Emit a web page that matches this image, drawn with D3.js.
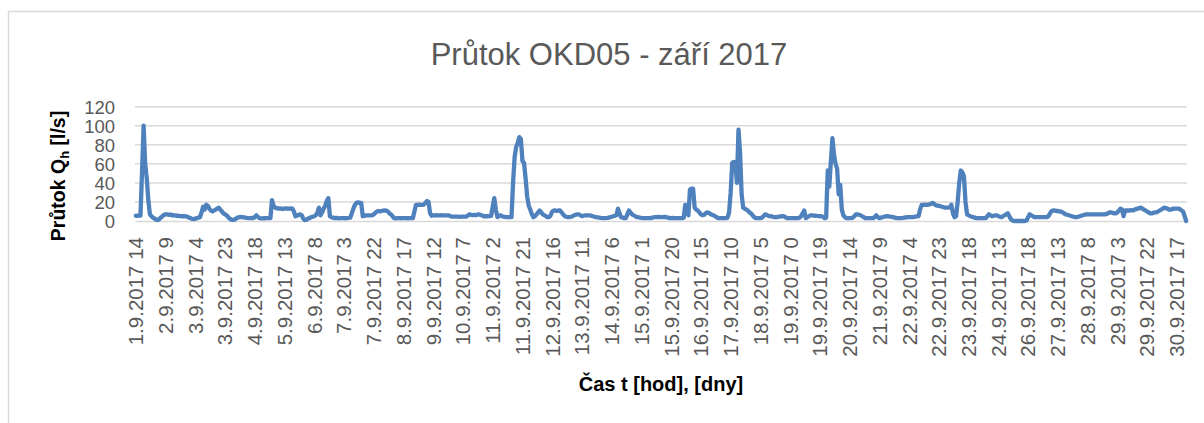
<!DOCTYPE html>
<html>
<head>
<meta charset="utf-8">
<script src="https://cdn.jsdelivr.net/npm/d3@7"></script>
<style>
  body { margin: 0; background: #fff; }
  svg { display: block; }
</style>
</head>
<body>
<svg id="chart" width="1204" height="423"></svg>
<script>
// Hourly flow at OKD05 [l/s], from 1.9.2017 14:00 onward (missing hours logged as 0)
const flow = [
  5.5, 5.5, 5.6, 5.6, 52, 100, 60, 45, 22, 7,
  5, 3.5, 2.5, 1.5, 1, 2, 3.5, 5, 6.5, 7,
  7, 6.5, 6.8, 6, 6.2, 5.8, 5.5, 5.6, 5.2, 5,
  5.1, 5, 4.8, 4.5, 3.5, 3, 2.2, 2, 2.5, 3,
  3.5, 4, 9, 15, 12, 17, 16, 13, 11, 10,
  11, 12, 13, 14, 12, 10, 8, 7, 6, 4,
  2.5, 1.5, 1, 1.5, 2.5, 3.5, 4, 4.2, 4, 3.8,
  3.5, 3.2, 3, 3, 3.2, 3, 4, 6, 4.5, 3,
  2.8, 2.8, 2.9, 3, 3, 3.1, 3, 22, 16, 14,
  13.5, 13, 13.2, 13, 12.6, 13, 13.4, 12.8, 13, 13.2,
  13, 10, 5, 5.5, 6.5, 7, 6, 2.5, 1, 1.5,
  2.5, 3, 4, 4.5, 5, 6, 9, 14, 6, 9,
  13, 16, 21, 24, 5, 4, 3.5, 3, 3.2, 3,
  2.8, 3, 3.1, 3, 2.9, 3, 3.2, 3.5, 8, 13,
  17, 19, 19.5, 19, 19, 5, 5.5, 5.8, 6, 6,
  5.9, 6, 7, 8.5, 10, 10.5, 10, 10.5, 11, 11.2,
  11, 10, 8, 7, 5, 3, 2.8, 3, 3, 2.9,
  3, 3, 3.1, 3, 2.9, 3, 3, 3, 10, 17,
  17, 17.2, 17, 17, 17.3, 19, 21, 20, 8, 5.5,
  6, 6, 6.2, 6, 6, 6.1, 6, 5.9, 6, 6,
  6, 5, 4.5, 4.5, 4.6, 4.5, 4.5, 4.4, 4.5, 4.5,
  4.6, 4.5, 5.5, 7, 6.5, 6, 6.5, 6, 6.5, 7,
  6.5, 6, 5, 5, 5, 5, 5.2, 5.5, 15, 24,
  12, 4, 5, 6, 5, 4.5, 4.2, 4, 4, 4.2,
  4, 40, 67, 78, 82, 88, 86, 63, 61, 45,
  26, 16, 12, 7, 4, 5, 7, 9, 11, 9,
  7, 6, 5, 4, 4, 6, 10, 11, 11, 10.5,
  11, 11, 9, 7, 5, 4.5, 4, 4, 4.5, 5,
  6, 6.5, 7, 7, 6, 5, 5.5, 6, 6, 6,
  6, 5.5, 5, 4.5, 4, 3.8, 3.5, 3.2, 3, 3,
  3, 3.2, 3.5, 4, 4.5, 5, 5.5, 6, 13, 8,
  4, 3.5, 3, 3, 7, 11, 9, 7, 6, 5,
  4, 4, 3.5, 3.2, 3, 3, 3, 3, 3, 3,
  3.5, 4, 4, 4, 4.2, 4, 4, 4, 4.2, 4,
  3.5, 3, 3, 3.2, 3, 3, 3, 3, 3, 3,
  3.5, 17, 10, 6, 33, 34, 34, 14, 12, 11,
  9, 7, 6, 6.5, 8, 9, 8.5, 7.5, 6.5, 6,
  5, 4, 3, 3, 3, 3, 3, 3, 3.5, 9,
  30, 61, 62, 61, 40, 96, 72, 28, 14, 13,
  12, 11, 9, 8, 6, 4, 3, 3, 3, 3,
  3.5, 5, 7, 6.5, 5.5, 5, 5, 4.5, 4, 4,
  4.2, 4.5, 4.8, 5, 5, 4, 3, 3, 3, 3,
  3, 3, 3, 3, 3.5, 5, 8, 11, 3, 4,
  5, 6, 5.8, 5.6, 5.5, 5.4, 5.2, 5, 5, 4.5,
  3, 3.5, 53, 36, 62, 87, 70, 60, 55, 28,
  38, 12, 6, 4, 3, 3, 3, 3, 3.5, 5,
  7, 7, 6.5, 6, 5, 4, 3, 3, 3, 3,
  3, 3, 4, 6, 4, 3, 3.5, 4, 4.5, 5,
  5, 4.8, 4.5, 4.2, 4, 3.5, 3, 3, 3, 3,
  3.2, 3.5, 3.8, 4, 4, 4, 4, 4.2, 4.5, 4.8,
  5, 12, 17, 17, 17.2, 17, 17, 17.5, 18, 19,
  18, 16.5, 16, 16, 15.5, 15, 14.5, 14, 14, 14,
  14.5, 17, 8, 4, 5, 20, 40, 53, 51, 47,
  20, 7, 6, 5, 4.5, 4, 3.5, 3, 3, 3,
  3, 3, 3, 3, 5, 7, 6, 5, 5.5, 6,
  6, 5, 4.5, 4, 5, 6, 7, 8, 5, 2,
  0.5, 0, 0, 0, 0, 0, 0, 0, 0, 0.5,
  4, 7, 6, 5, 4, 4, 4, 4, 4, 4,
  4, 4, 4.2, 5, 8, 10.5, 11, 11, 10.5, 10.5,
  10, 10, 9, 8, 7, 6.5, 6, 5.5, 5, 4.5,
  4, 4, 4.5, 5, 5.5, 6, 6.5, 7, 7, 7,
  7, 7, 7, 7, 7, 7, 7, 7, 7, 7,
  7.5, 8, 9, 9, 8.5, 8, 8, 9, 11, 13,
  12, 5, 11, 11, 11, 11, 11.5, 11, 12, 12.5,
  13, 13.5, 14, 13, 12, 11, 10, 9, 8, 8,
  8.5, 9, 9, 10, 11, 12, 13, 14, 13.5, 13,
  12, 12, 12.5, 13, 13, 13, 13, 12.5, 11, 10,
  5, 0
];

// Category labels shown on every 19th hourly record
const tickLabels = [
  "1.9.2017 14", "2.9.2017 9", "3.9.2017 4", "3.9.2017 23", "4.9.2017 18",
  "5.9.2017 13", "6.9.2017 8", "7.9.2017 3", "7.9.2017 22", "8.9.2017 17",
  "9.9.2017 12", "10.9.2017 7", "11.9.2017 2", "11.9.2017 21", "12.9.2017 16",
  "13.9.2017 11", "14.9.2017 6", "15.9.2017 1", "15.9.2017 20", "16.9.2017 15",
  "17.9.2017 10", "18.9.2017 5", "19.9.2017 0", "19.9.2017 19", "20.9.2017 14",
  "21.9.2017 9", "22.9.2017 4", "22.9.2017 23", "23.9.2017 18", "24.9.2017 13",
  "26.9.2017 18", "27.9.2017 13", "28.9.2017 8", "29.9.2017 3", "29.9.2017 22",
  "30.9.2017 17"
];
const labelStep = 19;
const yTicks = [0, 20, 40, 60, 80, 100, 120];

const chartTitle = "Průtok OKD05 - září 2017";
const xTitle = "Čas t [hod], [dny]";

const svg = d3.select("#chart");
const plot = { left: 135, right: 1187, top: 106.7, bottom: 221 };
const font = "'Liberation Sans', Arial, sans-serif";
const grey = "#595959";
const gridColor = "#d9d9d9";

// Outer chart frame
svg.append("rect")
  .attr("x", 8.5).attr("y", 11.5)
  .attr("width", 1300).attr("height", 500)
  .attr("fill", "none").attr("stroke", gridColor).attr("stroke-width", 1.5);

const x = d3.scaleBand()
  .domain(d3.range(flow.length))
  .range([plot.left, plot.right]);
const y = d3.scaleLinear().domain([0, 120]).range([plot.bottom, plot.top]);
const cx = i => x(i) + x.bandwidth() / 2;

// Horizontal gridlines
svg.append("g")
  .selectAll("line")
  .data(yTicks.filter(v => v > 0))
  .join("line")
  .attr("x1", plot.left).attr("x2", plot.right)
  .attr("y1", d => y(d)).attr("y2", d => y(d))
  .attr("stroke", gridColor).attr("stroke-width", 1.5);

// Y axis labels
const yAxis = svg.append("g")
  .attr("transform", `translate(${plot.left},0)`)
  .call(d3.axisLeft(y).tickValues(yTicks).tickSize(0).tickPadding(20));
yAxis.select(".domain").remove();
yAxis.selectAll("text")
  .attr("font-family", font).attr("font-size", 18.5).attr("fill", grey)
  .attr("dy", "0.36em");

// X axis with rotated category labels
const tickIdx = d3.range(0, flow.length, labelStep).slice(0, tickLabels.length);
const xAxis = svg.append("g")
  .attr("transform", `translate(0,${plot.bottom})`)
  .call(d3.axisBottom(x)
    .tickValues(tickIdx)
    .tickFormat(i => tickLabels[i / labelStep])
    .tickSize(0)
    .tickSizeOuter(0));
xAxis.select(".domain").attr("stroke", gridColor).attr("stroke-width", 1.5);
xAxis.selectAll(".tick").attr("transform", d => `translate(${cx(d)},0)`);
xAxis.selectAll("text")
  .attr("font-family", font).attr("font-size", 20.5).attr("fill", grey)
  .attr("text-anchor", "end")
  .attr("transform", "rotate(-90)")
  .attr("x", -16).attr("y", 0).attr("dy", "0.36em");

// Flow line
const line = d3.line()
  .x((d, i) => cx(i))
  .y(d => y(d))
  .curve(d3.curveLinear);
svg.append("path")
  .datum(flow)
  .attr("d", line)
  .attr("fill", "none")
  .attr("stroke", "#4f81bd")
  .attr("stroke-width", 4.3)
  .attr("stroke-linejoin", "round")
  .attr("stroke-linecap", "round");

// Titles
svg.append("text")
  .attr("x", 609).attr("y", 65)
  .attr("text-anchor", "middle")
  .attr("font-family", font).attr("font-size", 31).attr("fill", grey)
  .text(chartTitle);

svg.append("text")
  .attr("x", 661).attr("y", 391)
  .attr("text-anchor", "middle")
  .attr("font-family", font).attr("font-size", 20).attr("font-weight", "bold")
  .attr("fill", "#000")
  .text(xTitle);

const yTitle = svg.append("text")
  .attr("transform", "translate(65,176) rotate(-90)")
  .attr("text-anchor", "middle")
  .attr("font-family", font).attr("font-size", 19.5).attr("font-weight", "bold")
  .attr("fill", "#000");
yTitle.append("tspan").text("Průtok Q");
yTitle.append("tspan").attr("font-size", 13).attr("dy", 4).text("h");
yTitle.append("tspan").attr("dy", -4).text(" [l/s]");
</script>
</body>
</html>
